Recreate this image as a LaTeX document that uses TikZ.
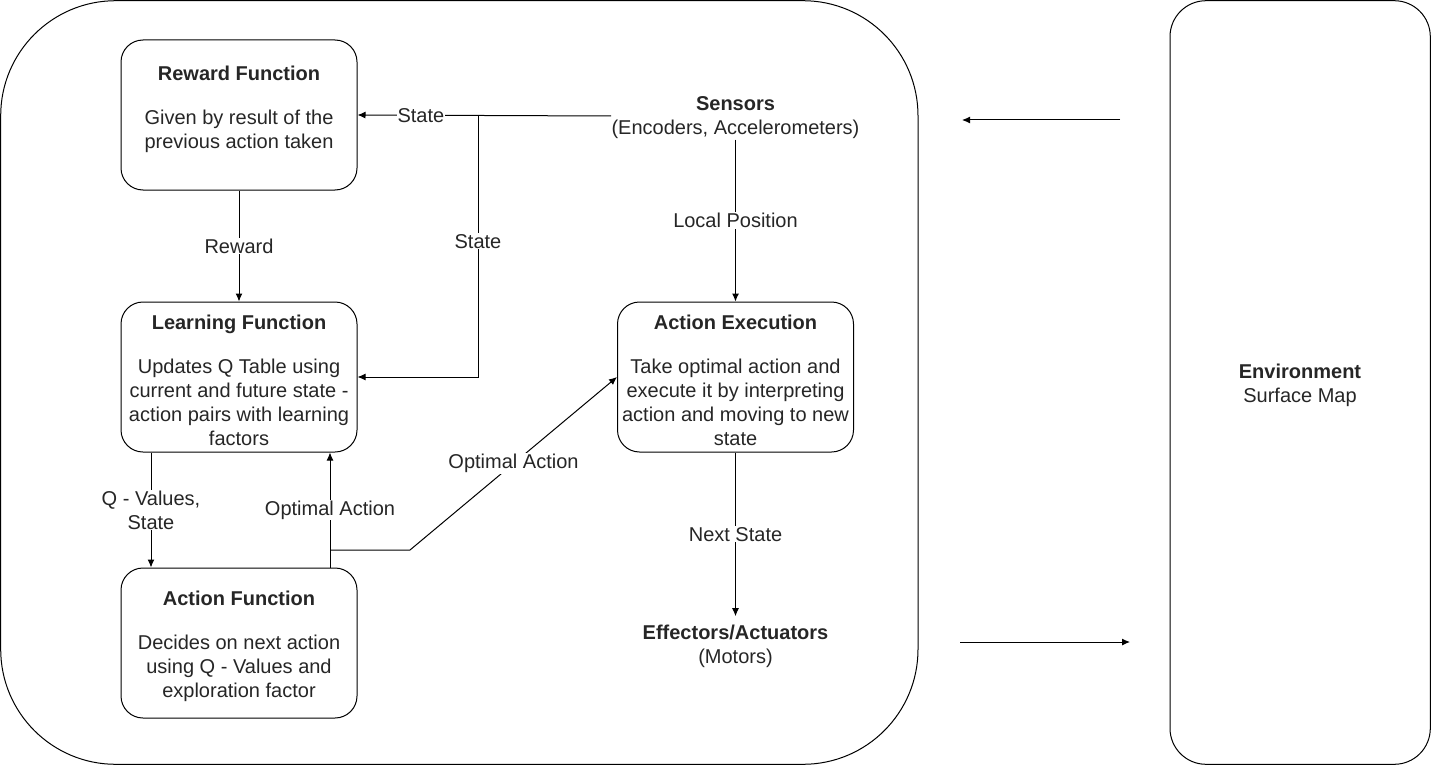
\documentclass[tikz,border=0pt]{standalone}
\usepackage{fontspec}
\setmainfont{Liberation Sans}
\usetikzlibrary{arrows.meta}
\newcommand{\topstrut}{\rule{0pt}{22pt}}
\tikzset{
  every picture/.style={
    line width=1pt,
    >={Latex[width=7pt, length=8pt]}
  },
  every node/.style={
    font=\fontsize{20}{24}\selectfont, text=black!85
  },
  box/.style={
    draw, rounded corners=22pt, minimum width=236pt,
    minimum height=150pt, align=center, inner sep=0pt
  },
  plain/.style={
    align=center, inner sep=0pt
  },
  lbl/.style={
    fill=white, align=center, inner sep=1pt
  }
}
\begin{document}
\begin{tikzpicture}[x=1pt,y=-1pt]
      \useasboundingbox (0,0) rectangle (1431,765);
      \draw [rounded corners=115pt] (0.7,0.7) rectangle (918,764.3);
      \draw [rounded corners=36pt] (1170,0.7) rectangle (1430.3,764.3);
      \node [box] (reward) at (239,115)
        {\topstrut\textbf{Reward Function}\\[20pt]Given by result of the\\previous action taken\\~};
      \node [box] (learning) at (239,377)
        {\topstrut\textbf{Learning Function}\\[20pt]Updates Q Table using\\current and future state -\\action pairs with learning\\factors};
      \node [box] (action) at (239,643)
        {\topstrut\textbf{Action Function}\\[20pt]Decides on next action\\using Q - Values and\\exploration factor};
      \node [box] (exec) at (735.5,377)
        {\topstrut\textbf{Action Execution}\\[20pt]Take optimal action and\\execute it by interpreting\\action and moving to new\\state};
      \node [plain] (sensors) at (735.5,118)
        {\textbf{Sensors}\\(Encoders, Accelerometers)};
      \node [plain] (effectors) at (735.5,646)
        {\textbf{Effectors/Actuators}\\(Motors)};
      \node [plain] (env) at (1300,385)
        {\textbf{Environment}\\Surface Map};
      \coordinate (split) at (478,116);
      \coordinate (bend) at (330,550);
      \coordinate (knee) at (410,550);
      \coordinate (inA) at (1120,120);
      \coordinate (inB) at (962,120);
      \coordinate (outA) at (960,642);
      \coordinate (outB) at (1130,642);
      \draw [->] (split -| sensors.west) -- node [lbl, pos=0.75] {State} (reward.east);
      \draw [->] (split) |- node [lbl, pos=0.24] {State} (learning.east);
      \draw [->] (reward) -- node [lbl] {Reward} (learning);
      \draw [->] (sensors.south) -- node [lbl] {Local Position} (exec);
      \draw [->] (exec) -- node [lbl] {Next State} ([yshift=8pt]effectors.north);
      \draw [->] ([xshift=-88pt]learning.south) -- node [lbl] {Q - Values,\\State}
        ([xshift=-88pt]action.north);
      \draw [->] ([xshift=91pt]action.north) -- node [lbl] {Optimal Action}
        ([xshift=91pt]learning.south);
      \draw [->] (bend) -- (knee) -- node [lbl] {Optimal Action} (exec.west);
      \draw [->] (inA) -- (inB);
      \draw [->] (outA) -- (outB);
    \end{tikzpicture}
\end{document}
